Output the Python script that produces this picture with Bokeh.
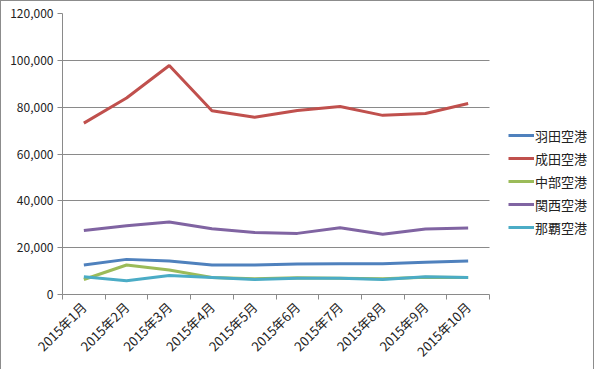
from math import pi
from bokeh.plotting import figure
from bokeh.models import Range1d, FixedTicker, NumeralTickFormatter, Legend, LegendItem
from bokeh.embed import file_html
from bokeh.resources import INLINE

months = ["2015年1月", "2015年2月", "2015年3月", "2015年4月", "2015年5月",
          "2015年6月", "2015年7月", "2015年8月", "2015年9月", "2015年10月"]
haneda = [12600, 15000, 14300, 12600, 12600, 13000, 13100, 13100, 13800, 14300]
narita = [73200, 83900, 97800, 78500, 75700, 78600, 80300, 76500, 77300, 81600]
chubu = [6400, 12600, 10500, 7300, 6700, 7100, 6900, 6700, 7400, 7300]
kansai = [27300, 29400, 31000, 28100, 26500, 26100, 28500, 25700, 28000, 28400]
naha = [7600, 5900, 8100, 7300, 6400, 6900, 6900, 6400, 7600, 7300]

series_names = ["羽田空港", "成田空港", "中部空港", "関西空港", "那覇空港"]
series_values = [haneda, narita, chubu, kansai, naha]
colors = ["#4F81BD", "#C0504D", "#9BBB59", "#8064A2", "#4BACC6"]

y_ticks = [0, 20000, 40000, 60000, 80000, 100000, 120000]

n = len(months)
xs = [i + 0.5 for i in range(n)]
bounds = list(range(n + 1))

# frame spans to the right edge so that the legend (inside the frame) is not clipped;
# the plotted category area occupies the first 427 px of the 531 px frame
frame_w, plot_w = 531, 427
p = figure(frame_width=frame_w, frame_height=281,
           x_range=Range1d(0, n * frame_w / plot_w), y_range=Range1d(0, 120000),
           output_backend="svg", toolbar_location=None,
           min_border_left=61, min_border_right=0, min_border_top=12, min_border_bottom=68)
p.outline_line_color = None
p.background_fill_color = "white"
p.border_fill_color = "white"
p.styles = {"border": "1px solid #8c8c8c", "box-sizing": "border-box"}

p.xgrid.visible = False
p.ygrid.grid_line_color = "#8a8a8a"
p.ygrid.grid_line_width = 1
p.ygrid.cross_bounds = (0, n)

font = "Noto Sans CJK JP"

p.yaxis.ticker = FixedTicker(ticks=y_ticks, minor_ticks=[])
p.yaxis.formatter = NumeralTickFormatter(format="0,0")
p.yaxis.axis_line_color = "#8a8a8a"
p.yaxis.major_tick_line_color = "#8a8a8a"
p.yaxis.major_tick_out = 5
p.yaxis.major_tick_in = 0
p.yaxis.minor_tick_line_color = None
p.yaxis.major_label_standoff = 4
p.yaxis.major_label_text_font = font
p.yaxis.major_label_text_font_size = "12px"
p.yaxis.major_label_text_color = "#222222"

p.xaxis.bounds = (0, n)
p.xaxis.ticker = FixedTicker(ticks=xs, minor_ticks=bounds)
p.xaxis.major_label_overrides = {x: m for x, m in zip(xs, months)}
p.xaxis.major_label_orientation = pi / 4
p.xaxis.axis_line_color = "#8a8a8a"
p.xaxis.major_tick_line_color = None
p.xaxis.major_tick_out = 0
p.xaxis.major_tick_in = 0
p.xaxis.minor_tick_line_color = "#8a8a8a"
p.xaxis.minor_tick_out = 5
p.xaxis.minor_tick_in = 0
p.xaxis.major_label_standoff = 5
p.xaxis.major_label_text_font = font
p.xaxis.major_label_text_font_size = "13px"
p.xaxis.major_label_text_color = "#222222"

items = []
for name, vals, c in zip(series_names, series_values, colors):
    r = p.line(xs, vals, line_color=c, line_width=3)
    items.append(LegendItem(label=name, renderers=[r]))

legend = Legend(items=items, location=(446, 57))
legend.border_line_alpha = 0
legend.background_fill_alpha = 0
legend.padding = 0
legend.margin = 0
legend.spacing = 3
legend.glyph_width = 26
legend.glyph_height = 20
legend.label_height = 20
legend.label_standoff = 1
legend.label_text_font = font
legend.label_text_font_size = "13px"
legend.label_text_color = "#222222"
p.add_layout(legend)

open("out.html", "w").write(file_html(p, INLINE))
